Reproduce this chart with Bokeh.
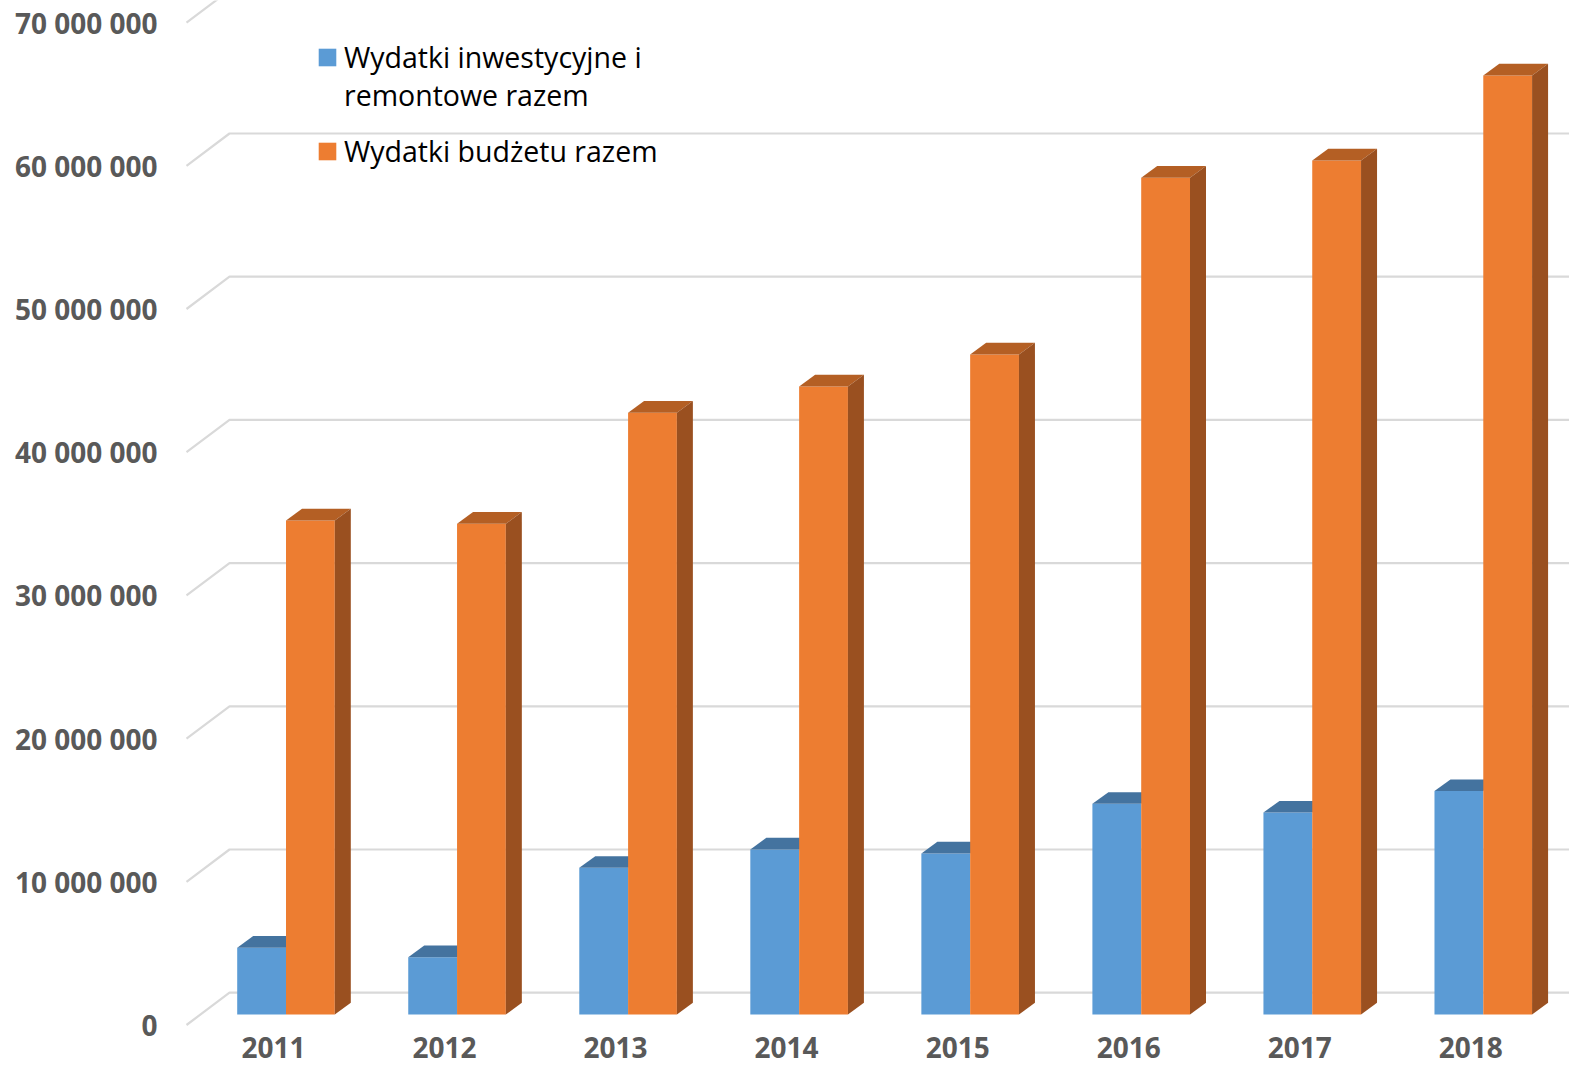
import numpy as np
from bokeh.plotting import figure
from bokeh.models import Range1d, LinearAxis, FixedTicker, Legend, LegendItem
from bokeh.embed import file_html
from bokeh.resources import INLINE

# ---- data ----
years = ["2011", "2012", "2013", "2014", "2015", "2016", "2017", "2018"]
invest = [4_660_000, 4_000_000, 10_240_000, 11_520_000, 11_240_000, 14_710_000, 14_100_000, 15_600_000]
budget = [34_500_000, 34_270_000, 42_020_000, 43_850_000, 46_090_000, 58_430_000, 59_640_000, 65_580_000]
y_ticks = [0, 10_000_000, 20_000_000, 30_000_000, 40_000_000, 50_000_000, 60_000_000, 70_000_000]
y_tick_labels = ["0", "10 000 000", "20 000 000", "30 000 000", "40 000 000",
                 "50 000 000", "60 000 000", "70 000 000"]
series_names = ["Wydatki inwestycyjne i", "remontowe razem", "Wydatki budżetu razem"]

# ---- layout / style constants ----
W, H = 1569, 1064
BL, BB = 175, 36
FRAME_W, FRAME_H = W - BL, H - BB
XPX = 171.04            # px per category
YPX = 14.32e-6          # px per unit value
CAT0_PX = 285.5 - BL    # frame px of category 0 centre
ZERO_PX = FRAME_H - 1014  # frame px (from bottom) of value 0 on the bar plane

x0 = -CAT0_PX / XPX
x1 = (FRAME_W - CAT0_PX) / XPX
y0 = -ZERO_PX / YPX
y1 = (FRAME_H - ZERO_PX) / YPX

BAR_W = 48.8 / XPX
BAR_DX = 16.0 / XPX
BAR_DY = 11.7 / YPX
FLOOR_FRONT_X = (186 - 285.5) / XPX
FLOOR_BACK_X = (229 - 285.5) / XPX
FRONT_DY = -10.5 / YPX
BACK_DY = 21.8 / YPX
LABEL_SHIFT = 12.5 / XPX

BLUE, BLUE_TOP = "#5B9BD5", "#44739F"
ORANGE, ORANGE_TOP, ORANGE_SIDE = "#ED7D31", "#B45F24", "#9A5020"
GRID = "#D9D9D9"
TXT = "#595959"

p = figure(width=W, height=H, output_backend="svg", toolbar_location=None,
           x_range=Range1d(x0, x1), y_range=Range1d(y0, y1),
           x_axis_location=None, y_axis_location=None,
           min_border_left=BL, min_border_right=0, min_border_top=0, min_border_bottom=BB,
           outline_line_color=None, background_fill_color="white", border_fill_color="white")
for g in p.grid:
    g.visible = False

p.extra_x_ranges = {"lab": Range1d(x0 + LABEL_SHIFT, x1 + LABEL_SHIFT)}
p.extra_y_ranges = {"front": Range1d(y0 - FRONT_DY, y1 - FRONT_DY)}

# gridlines (floor diagonal + back wall)
gx, gy = [], []
for v in y_ticks:
    gx.append([FLOOR_FRONT_X, FLOOR_BACK_X, x1 + 1])
    gy.append([v + FRONT_DY, v + BACK_DY, v + BACK_DY])
p.multi_line(gx, gy, line_color=GRID, line_width=2.2)

idx = np.arange(len(years), dtype=float)
inv = np.array(invest, dtype=float)
bud = np.array(budget, dtype=float)


def top_patches(left, val):
    xs = [[l, l + BAR_W, l + BAR_W + BAR_DX, l + BAR_DX] for l in left]
    ys = [[v, v, v + BAR_DY, v + BAR_DY] for v in val]
    return xs, ys


def side_patches(left, val):
    xs = [[l + BAR_W, l + BAR_W + BAR_DX, l + BAR_W + BAR_DX, l + BAR_W] for l in left]
    ys = [[0, BAR_DY, v + BAR_DY, v] for v in val]
    return xs, ys


bl = idx - BAR_W
ol = idx

r_blue = p.quad(left=bl, right=bl + BAR_W, bottom=0, top=inv, fill_color=BLUE, line_color=None)
xs, ys = top_patches(bl, inv)
p.patches(xs, ys, fill_color=BLUE_TOP, line_color=None)

r_orange = p.quad(left=ol, right=ol + BAR_W, bottom=0, top=bud, fill_color=ORANGE, line_color=None)
xs, ys = top_patches(ol, bud)
p.patches(xs, ys, fill_color=ORANGE_TOP, line_color=None)
xs, ys = side_patches(ol, bud)
p.patches(xs, ys, fill_color=ORANGE_SIDE, line_color=None)

# invisible renderer for the wrapped second line of the first legend entry
r_blank = p.quad(left=[], right=[], bottom=[], top=[], fill_alpha=0, line_alpha=0)

# axes
yax = LinearAxis(y_range_name="front", ticker=FixedTicker(ticks=y_ticks),
                 major_label_overrides={v: s for v, s in zip(y_ticks, y_tick_labels)},
                 axis_line_color=None, major_tick_line_color=None, minor_tick_line_color=None,
                 major_tick_out=0, major_tick_in=0, major_label_standoff=18,
                 major_label_text_font="Open Sans", major_label_text_font_style="bold",
                 major_label_text_font_size="28px", major_label_text_color=TXT)
p.add_layout(yax, "left")

xax = LinearAxis(x_range_name="lab", ticker=FixedTicker(ticks=list(range(len(years)))),
                 major_label_overrides={i: y for i, y in enumerate(years)},
                 axis_line_color=None, major_tick_line_color=None, minor_tick_line_color=None,
                 major_tick_out=0, major_tick_in=0, major_label_standoff=8,
                 major_label_text_font="Open Sans", major_label_text_font_style="bold",
                 major_label_text_font_size="28px", major_label_text_color=TXT)
p.add_layout(xax, "below")

legend_style = dict(padding=0, margin=0, spacing=0,
                    border_line_color=None, background_fill_alpha=0,
                    glyph_width=22, glyph_height=22, label_standoff=6,
                    label_text_font="Open Sans", label_text_font_size="28.5px",
                    label_text_color="black")
legend_a = Legend(items=[LegendItem(label=series_names[0], renderers=[r_blue]),
                         LegendItem(label=series_names[1], renderers=[r_blank])],
                  location=(141, 914), **legend_style)
legend_b = Legend(items=[LegendItem(label=series_names[2], renderers=[r_orange])],
                  location=(141, 858), **legend_style)
p.add_layout(legend_a)
p.add_layout(legend_b)

open("out.html", "w").write(file_html(p, INLINE))
